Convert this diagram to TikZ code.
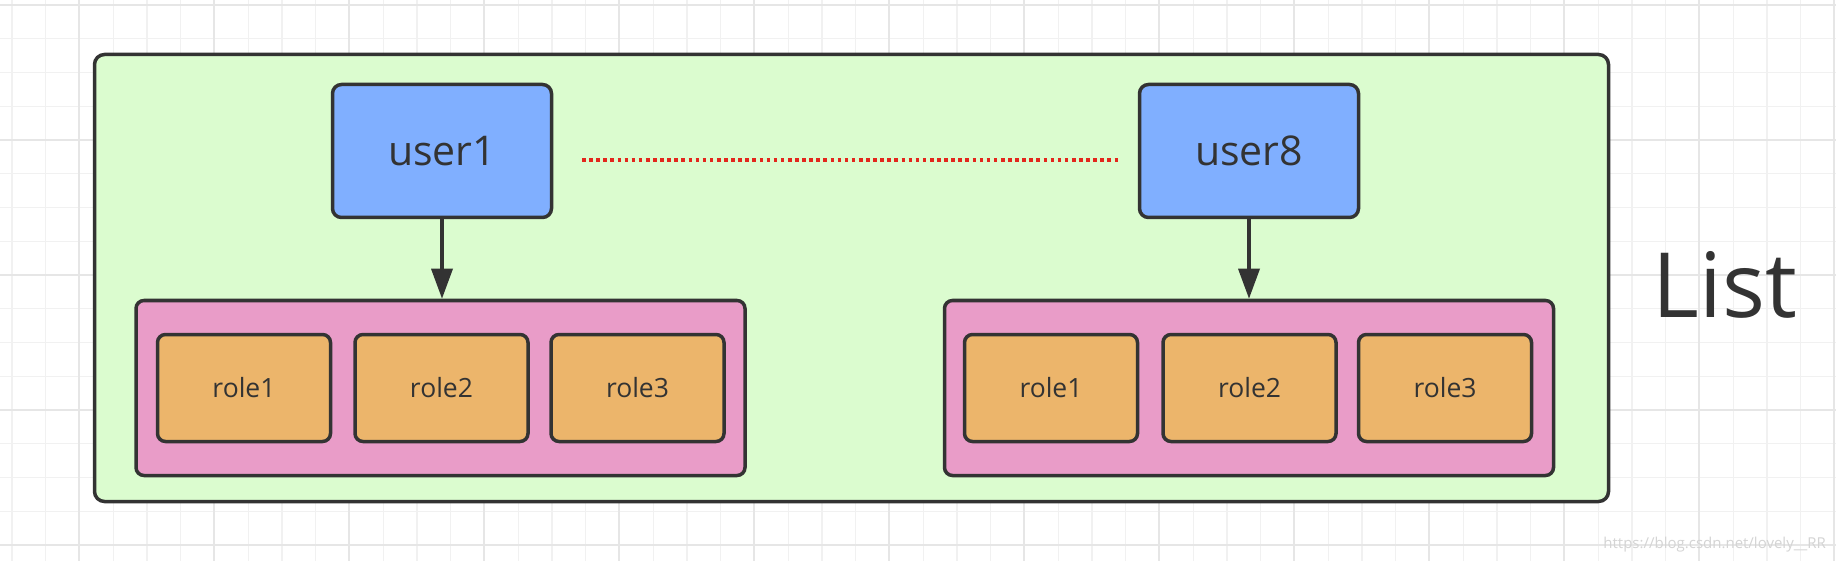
\documentclass[tikz,border=0pt]{standalone}
\usepackage{fontspec}
\setmainfont{Open Sans}
\usetikzlibrary{arrows.meta}
\definecolor{gridminor}{HTML}{F1F1F1}
\definecolor{gridmajor}{HTML}{E6E6E6}
\definecolor{ink}{HTML}{333333}
\definecolor{listgreen}{HTML}{DBFCCF}
\definecolor{userblue}{HTML}{80AFFF}
\definecolor{rolepink}{HTML}{E99CC8}
\definecolor{roleorange}{HTML}{ECB56B}
\definecolor{dotred}{HTML}{E3261C}
\definecolor{wmark}{HTML}{D4D4D4}
\begin{document}
\begin{tikzpicture}[x=1pt,y=-1pt,
  listbox/.style={draw=ink, line width=3.5pt, fill=listgreen, rounded corners=10pt,
    minimum width=1514pt, minimum height=447pt, inner sep=0pt},
  userbox/.style={draw=ink, line width=3.5pt, fill=userblue, rounded corners=9pt,
    minimum width=219pt, minimum height=133pt, inner sep=0pt, text=ink,
    font=\fontsize{41}{45}\selectfont},
  groupbox/.style={draw=ink, line width=3.5pt, fill=rolepink, rounded corners=8pt,
    minimum width=609pt, minimum height=175pt, inner sep=0pt},
  rolebox/.style={draw=ink, line width=3.5pt, fill=roleorange, rounded corners=8pt,
    minimum width=173pt, minimum height=107pt, inner sep=0pt, text=ink,
    font=\fontsize{26.5}{30}\selectfont},
  link/.style={draw=ink, line width=3.5pt, -{Triangle[length=30pt,width=21pt]}},
  dotline/.style={draw=dotred, line width=3.2pt, dash pattern=on 3.6pt off 3.5pt},
  titletext/.style={text=ink, inner sep=0pt, font=\fontsize{90}{96}\selectfont},
  marktext/.style={text=wmark, inner sep=0pt, font=\fontsize{15}{17}\selectfont}
]
\useasboundingbox (0,0) rectangle (1836,561);
\fill[white] (0,0) rectangle (1836,561);
% grid
\foreach \i in {0,...,54}
  \draw[gridminor, line width=1.2pt] ({12+33.75*\i},0) -- ++(0,561);
\foreach \j in {0,...,16}
  \draw[gridminor, line width=1.2pt] (0,{5+33.75*\j}) -- ++(1836,0);
\foreach \i in {0,...,13}
  \draw[gridmajor, line width=1.5pt] ({79+135*\i},0) -- ++(0,561);
\foreach \j in {0,...,4}
  \draw[gridmajor, line width=1.5pt] (0,{5+135*\j}) -- ++(1836,0);

% container
\node[listbox] (list) at (851.5,278) {};
\node[titletext, anchor=base] (listlabel) at (1725,317) {List};

% users
\node[userbox] (user1) at (442,151) {user1};
\node[userbox] (user8) at (1249,151) {user8};

% groups
\node[groupbox] (groupL) at (440.5,388) {};
\node[groupbox] (groupR) at (1249,388) {};

% roles
\node[rolebox] (l1) at (244,388) {role1};
\node[rolebox] (l2) at (441.5,388) {role2};
\node[rolebox] (l3) at (637.5,388) {role3};
\node[rolebox] (r1) at (1051,388) {role1};
\node[rolebox] (r2) at (1249.5,388) {role2};
\node[rolebox] (r3) at (1445,388) {role3};

% arrows
\draw[link] (user1.south) -- (user1.south |- groupL.north);
\draw[link] (user8.south) -- (user8.south |- groupR.north);

% dotted line between users
\coordinate (d1) at (582,160);
\coordinate (d2) at (1121,160);
\draw[dotline] (d1) -- (d2);

% watermark
\node[marktext, anchor=base east] (wm) at (1826,548) {https://blog.csdn.net/lovely\_\_RR};
\end{tikzpicture}
\end{document}
